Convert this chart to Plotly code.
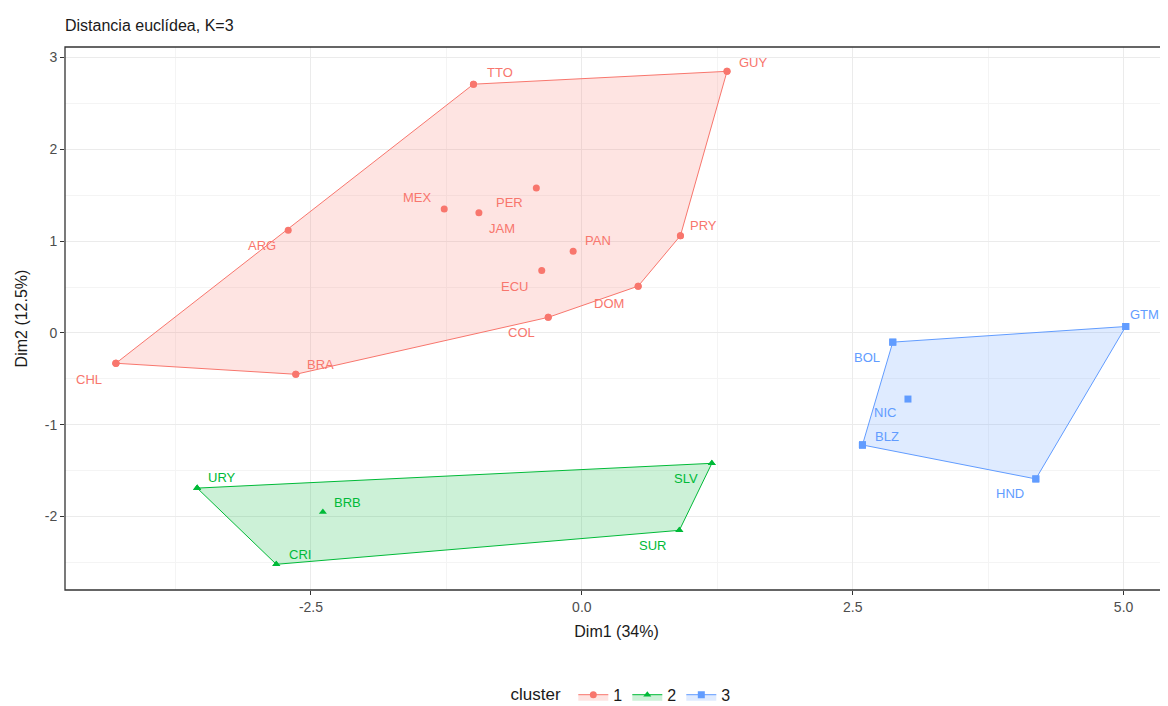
import plotly.graph_objects as go

# ---------------- data ----------------
names_c1 = ["TTO", "GUY", "MEX", "PER", "JAM", "ARG", "PAN", "PRY", "ECU", "DOM", "COL", "CHL", "BRA"]
dim1_c1 = [-1.00, 1.34, -1.27, -0.42, -0.95, -2.71, -0.08, 0.91, -0.37, 0.52, -0.31, -4.30, -2.64]
dim2_c1 = [2.71, 2.85, 1.35, 1.58, 1.31, 1.12, 0.89, 1.06, 0.68, 0.51, 0.17, -0.33, -0.45]

names_c2 = ["URY", "BRB", "CRI", "SLV", "SUR"]
dim1_c2 = [-3.55, -2.39, -2.82, 1.20, 0.90]
dim2_c2 = [-1.69, -1.95, -2.52, -1.42, -2.15]

names_c3 = ["GTM", "BOL", "NIC", "BLZ", "HND"]
dim1_c3 = [5.02, 2.87, 3.01, 2.59, 4.19]
dim2_c3 = [0.07, -0.10, -0.72, -1.22, -1.59]

cluster_names = ["1", "2", "3"]
x_ticks = [-2.5, 0.0, 2.5, 5.0]
y_ticks = [-2, -1, 0, 1, 2, 3]

# ---------------- style ----------------
colors = ["#F8766D", "#00BA38", "#619CFF"]
fills = ["rgba(248,118,109,0.2)", "rgba(0,186,56,0.2)", "rgba(97,156,255,0.2)"]
symbols = ["circle", "triangle-up", "square"]

# label offsets in pixels (xshift, yshift) - layout only
label_offsets = {
    "TTO": (27, 12), "GUY": (26, 9), "MEX": (-27, 12), "PER": (-27, -15),
    "JAM": (23, -16), "ARG": (-26, -15), "PAN": (25, 11), "PRY": (23, 10),
    "ECU": (-27, -16), "DOM": (-29, -17), "COL": (-27, -15), "CHL": (-27, -16),
    "BRA": (25, 10), "URY": (25, 11), "BRB": (25, 9), "CRI": (24, 10),
    "SLV": (-26, -15), "SUR": (-27, -15), "GTM": (19, 12), "BOL": (-26, -15),
    "NIC": (-23, -13), "BLZ": (25, 8), "HND": (-26, -15),
}

FONT = "Liberation Sans, Arial, sans-serif"
W, H = 1168, 706


def convex_hull(xs, ys):
    pts = sorted(set(zip(xs, ys)))
    if len(pts) <= 2:
        return pts

    def cross(o, a, b):
        return (a[0] - o[0]) * (b[1] - o[1]) - (a[1] - o[1]) * (b[0] - o[0])

    lower, upper = [], []
    for p in pts:
        while len(lower) >= 2 and cross(lower[-2], lower[-1], p) <= 0:
            lower.pop()
        lower.append(p)
    for p in reversed(pts):
        while len(upper) >= 2 and cross(upper[-2], upper[-1], p) <= 0:
            upper.pop()
        upper.append(p)
    return lower[:-1] + upper[:-1]


fig = go.Figure()
groups = [(names_c1, dim1_c1, dim2_c1), (names_c2, dim1_c2, dim2_c2), (names_c3, dim1_c3, dim2_c3)]
annotations = []
for i, (names, xs, ys) in enumerate(groups):
    hull = convex_hull(xs, ys)
    hx = [p[0] for p in hull] + [hull[0][0]]
    hy = [p[1] for p in hull] + [hull[0][1]]
    fig.add_trace(go.Scatter(
        x=hx, y=hy, mode="lines+markers", fill="toself", fillcolor=fills[i],
        line=dict(color=colors[i], width=1),
        marker=dict(symbol=symbols[i], size=7, color=colors[i]),
        name=cluster_names[i], legendgroup=cluster_names[i], hoverinfo="skip",
    ))
    fig.add_trace(go.Scatter(
        x=xs, y=ys, mode="markers", text=names,
        marker=dict(symbol=symbols[i], size=7, color=colors[i]),
        name=cluster_names[i], legendgroup=cluster_names[i], showlegend=False,
    ))
    for n, x, y in zip(names, xs, ys):
        dx, dy = label_offsets.get(n, (0, 10))
        annotations.append(dict(
            x=x, y=y, xref="x", yref="y", text=n, showarrow=False,
            xshift=dx, yshift=dy,
            font=dict(family=FONT, size=13, color=colors[i]),
        ))

axis_common = dict(
    showgrid=True, gridcolor="#ebebeb", gridwidth=1.1,
    zeroline=False, showline=False, automargin=False,
    ticks="outside", ticklen=4, tickcolor="#333333", tickwidth=1,
    tickfont=dict(family=FONT, size=14, color="#4d4d4d"),
)

# the page body adds an 8px offset, so margins are reduced by 8px
fig.update_layout(
    width=W, height=H,
    margin=dict(l=57, r=8, t=39, b=124, autoexpand=False),
    paper_bgcolor="white", plot_bgcolor="white",
    font=dict(family=FONT, color="#1a1a1a"),
    title=dict(text="Distancia euclídea, K=3", x=57 / W, xanchor="left",
               y=1 - 17 / H, yanchor="middle", xref="container", yref="container",
               font=dict(size=16, color="#1a1a1a")),
    xaxis=dict(
        range=[-4.77, 5.41], tickvals=x_ticks, ticktext=[f"{v:.1f}" for v in x_ticks],
        minor=dict(showgrid=True, gridcolor="#f4f4f4", tickvals=[-3.75, -1.25, 1.25, 3.75]),
        title=dict(text="Dim1 (34%)", font=dict(size=16, color="#1a1a1a"), standoff=12),
        **axis_common,
    ),
    yaxis=dict(
        range=[-2.80, 3.115], tickvals=y_ticks, ticktext=[str(v) for v in y_ticks],
        minor=dict(showgrid=True, gridcolor="#f4f4f4", tickvals=[-2.5, -1.5, -0.5, 0.5, 1.5, 2.5]),
        title=dict(text="Dim2 (12.5%)", font=dict(size=16, color="#1a1a1a"), standoff=13),
        **axis_common,
    ),
    legend=dict(
        orientation="h", x=0.505, xanchor="center", y=-0.193, yanchor="middle",
        title=dict(text="cluster ", font=dict(size=17, color="#1a1a1a")),
        font=dict(size=16, color="#1a1a1a"),
    ),
    annotations=annotations,
    shapes=[dict(type="rect", xref="paper", yref="paper", x0=0, y0=0, x1=1.05, y1=1,
                 line=dict(color="#333333", width=1.3), layer="above")],
    showlegend=True,
)

fig.write_html("out.html")
